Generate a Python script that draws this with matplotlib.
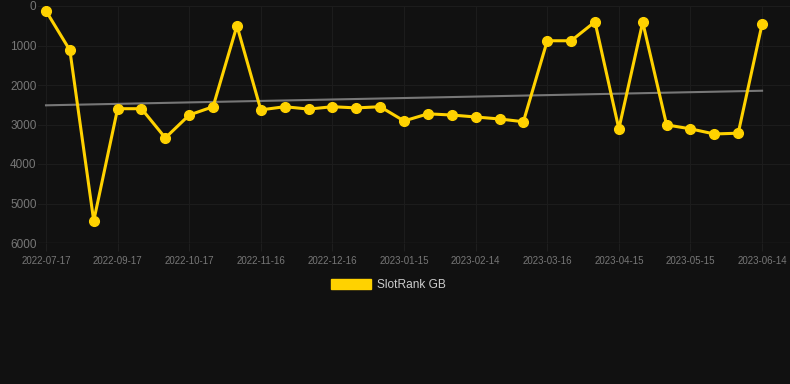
import numpy as np
import matplotlib
matplotlib.use("Agg")
import matplotlib.pyplot as plt
from matplotlib.patches import Patch

plt.rcParams["font.family"] = ["Liberation Sans", "DejaVu Sans"]

dates = ["2022-07-17", "2022-08-07", "2022-08-28", "2022-09-17", "2022-09-27",
         "2022-10-07", "2022-10-17", "2022-10-27", "2022-11-06", "2022-11-16",
         "2022-11-26", "2022-12-06", "2022-12-16", "2022-12-26", "2023-01-05",
         "2023-01-15", "2023-01-25", "2023-02-04", "2023-02-14", "2023-02-24",
         "2023-03-06", "2023-03-16", "2023-03-26", "2023-04-05", "2023-04-15",
         "2023-04-25", "2023-05-05", "2023-05-15", "2023-05-25", "2023-06-04",
         "2023-06-14"]
ranks = [125, 1120, 5440, 2600, 2600, 3340, 2760, 2550, 500, 2630,
         2550, 2610, 2550, 2580, 2550, 2910, 2730, 2760, 2810, 2860,
         2930, 880, 880, 400, 3110, 410, 3010, 3110, 3240, 3220, 460]
y_ticks = [0, 1000, 2000, 3000, 4000, 5000, 6000]
series_name = "SlotRank GB"

bg = "#111111"
gold = "#FFD200"

x = np.arange(len(dates))

fig = plt.figure(figsize=(7.9, 3.84), dpi=100, facecolor=bg)
ax = fig.add_axes([38 / 790, 1 - 243 / 384, 1 - 38 / 790, 237 / 384])
ax.set_facecolor(bg)

# trend line (linear fit of the series)
k, b = np.polyfit(x, ranks, 1)
ax.plot(x[[0, -1]], k * x[[0, -1]] + b, color="#777777", lw=1.5, zorder=2)

ax.plot(x, ranks, color=gold, lw=2.2, marker="o", ms=7, zorder=3)

ax.set_ylim(6000, 0)
ax.set_xlim(-0.335, 31.17)
ax.set_yticks(y_ticks)
ax.set_xticks(x[::3])
ax.set_xticklabels(dates[::3])
ax.tick_params(axis="x", colors="#1e1e1e", labelcolor="#777777", labelsize=7,
               length=6, width=0.8, pad=3)
ax.tick_params(axis="y", colors="#777777", labelsize=8.5, length=0, pad=1)
ax.grid(True, color="#1c1c1c", lw=0.8)
for s in ax.spines.values():
    s.set_visible(False)
ax.axhline(6000, color="#2a2a2a", lw=1)

fig.legend(handles=[Patch(facecolor=gold, edgecolor=gold)], labels=[series_name],
           loc="center", bbox_to_anchor=(0.492, 0.258), frameon=False,
           fontsize=8.6, handlelength=3.35, handleheight=1.0, handletextpad=0.5,
           labelcolor="#cccccc")

fig.savefig("out.png", dpi=100, facecolor=bg)
